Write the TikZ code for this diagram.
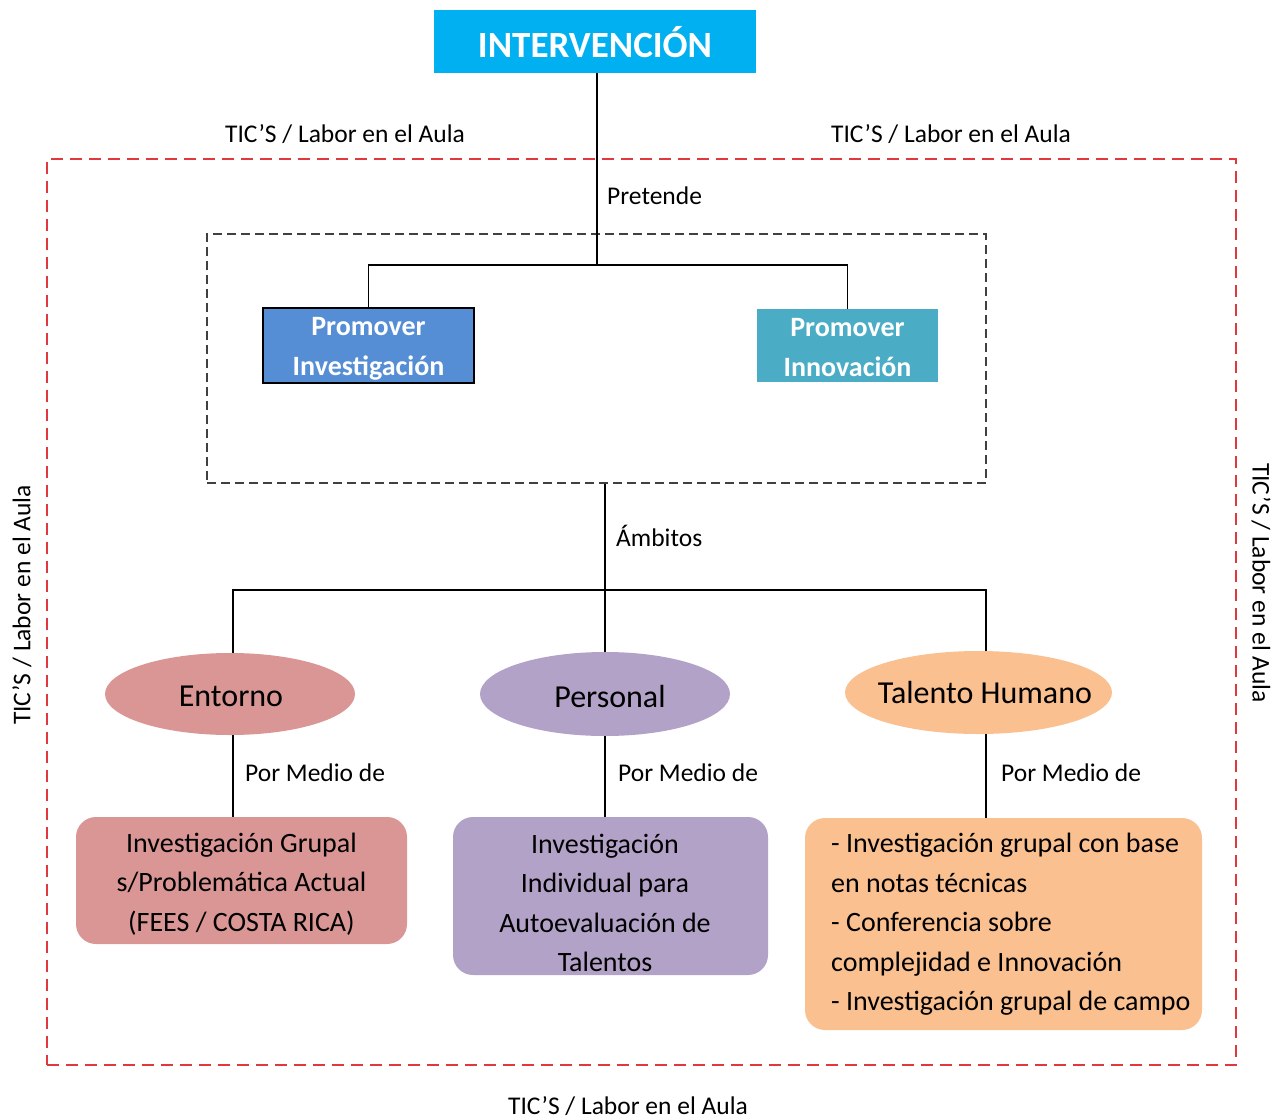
\documentclass[tikz,border=0pt]{standalone}
\usepackage{fontspec}
\setmainfont{Carlito}
\usetikzlibrary{shapes.geometric}
\definecolor{cyanbox}{HTML}{00B0F0}
\definecolor{bluebox}{HTML}{558ED5}
\definecolor{tealbox}{HTML}{4BACC6}
\definecolor{rosec}{HTML}{D99694}
\definecolor{lilac}{HTML}{B3A2C7}
\definecolor{peach}{HTML}{FAC090}
\definecolor{redd}{HTML}{E0383C}
\definecolor{dgray}{HTML}{404040}
\tikzset{
  conn/.style={draw=black, line width=1.6pt},
  lbl/.style={font=\fontsize{25.5}{30}\selectfont, inner sep=0pt},
  promo/.style={text=white, font=\bfseries\fontsize{28}{40}\selectfont, align=center, inner sep=0pt},
  ell/.style={ellipse, inner sep=0pt},
  elltext/.style={font=\fontsize{32}{38}\selectfont, inner sep=0pt},
  rbox/.style={rounded corners=20pt, inner sep=0pt},
  rtext/.style={inner sep=0pt, font=\fontsize{28}{39.5}\selectfont, align=center}
}
\begin{document}
\begin{tikzpicture}[x=1pt,y=-1pt]
\useasboundingbox (0,0) rectangle (1283,1119);
% frames
\node[draw=redd, line width=1.6pt, dash pattern=on 12pt off 7pt, minimum width=1189pt, minimum height=906pt, inner sep=0pt] (frame) at (641.5,612) {};
\node[draw=dgray, line width=1.6pt, dash pattern=on 9pt off 5pt, minimum width=779pt, minimum height=249pt, inner sep=0pt] (dbox) at (596.5,358.5) {};
% frame labels
\node[lbl] (tl) at (345,134) {TIC’S / Labor en el Aula};
\node[lbl] (tr) at (951,134) {TIC’S / Labor en el Aula};
\node[lbl] (bt) at (628,1106) {TIC’S / Labor en el Aula};
\node[lbl, rotate=90] (lf) at (22,605) {TIC’S / Labor en el Aula};
\node[lbl, rotate=-90] (rt) at (1261,583) {TIC’S / Labor en el Aula};
% top
\node[fill=cyanbox, minimum width=322pt, minimum height=63pt, inner sep=0pt] (int) at (595,41.5) {};
\node[text=white, inner sep=0pt, font=\bfseries\fontsize{37}{44}\selectfont] (intt) at (595,42) {INTERVENCIÓN};
\node[fill=bluebox, draw=black, line width=2pt, minimum width=211pt, minimum height=75pt, inner sep=0pt] (pinv) at (368.5,345.5) {};
\node[promo] (pinvt) at (368.5,349) {Promover\\Investigación};
\node[fill=tealbox, minimum width=181pt, minimum height=73pt, inner sep=0pt] (pinn) at (847.5,345.5) {};
\node[promo] (pinnt) at (847.5,348) {Promover\\Innovación};
\coordinate (j1) at (597,265);
\draw[conn] (j1 |- int.south) -- (j1);
\draw[conn] (pinv.north) |- (j1) -| (pinn.north);
\node[lbl, anchor=west] (pret) at (607,196) {Pretende};
% ambitos
\coordinate (j2) at (605,590);
\coordinate (xe) at (233,0);
\coordinate (xt) at (986,0);
\node[ell, fill=rosec, minimum width=250pt, minimum height=82pt] (ent) at (230,694) {};
\node[elltext] (entt) at (231,696) {Entorno};
\node[ell, fill=lilac, minimum width=250pt, minimum height=84pt] (per) at (605,694) {};
\node[elltext] (pert) at (610,696) {Personal};
\node[ell, fill=peach, minimum width=267pt, minimum height=83pt] (tal) at (978.5,692.5) {};
\node[elltext] (talt) at (985,692) {Talento Humano};
\draw[conn] (j2 |- dbox.south) -- (j2);
\draw[conn] (ent.north -| xe) |- (j2) -| (tal.north -| xt);
\draw[conn] (j2) -- (per.north);
\node[lbl, anchor=west] (amb) at (616,536) {Ámbitos};
% bottom boxes
\node[rbox, fill=rosec, minimum width=331pt, minimum height=127pt] (b1) at (241.5,880.5) {};
\node[rtext] (b1t) at (241.5,884) {Investigación Grupal\\s/Problemática Actual\\(FEES / COSTA RICA)};
\node[rbox, fill=lilac, minimum width=315pt, minimum height=158pt] (b2) at (610.5,896) {};
\node[rtext] (b2t) at (605,903) {Investigación\\Individual para\\Autoevaluación de\\Talentos};
\node[rbox, fill=peach, minimum width=397pt, minimum height=212pt] (b3) at (1003.5,924) {};
\node[rtext, align=left, anchor=west] (b3t) at (831,924.5) {- Investigación grupal con base\\en notas técnicas\\- Conferencia sobre\\complejidad e Innovación\\- Investigación grupal de campo};
\draw[conn] (ent.south -| xe) -- (b1.north -| xe);
\draw[conn] (per.south) -- (per.south |- b2.north);
\draw[conn] (tal.south -| xt) -- (b3.north -| xt);
\node[lbl, anchor=west] (pm1) at (245,773) {Por Medio de};
\node[lbl, anchor=west] (pm2) at (618,773) {Por Medio de};
\node[lbl, anchor=west] (pm3) at (1001,773) {Por Medio de};
\end{tikzpicture}
\end{document}
